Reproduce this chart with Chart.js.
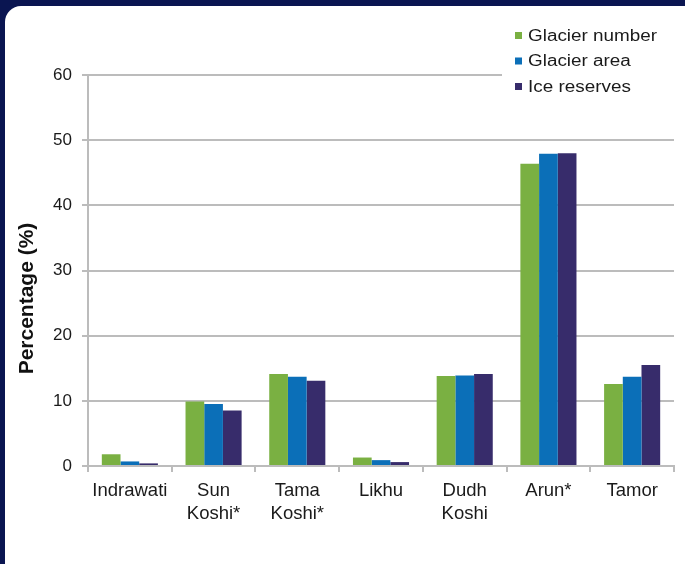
<!DOCTYPE html>
<html>
<head>
<meta charset="utf-8">
<script src="https://cdn.jsdelivr.net/npm/chart.js@4/dist/chart.umd.min.js"></script>
<style>
  html, body { margin: 0; padding: 0; }
  body { width: 685px; height: 564px; background: #0a1551; position: relative; overflow: hidden; }
  #panel { position: absolute; left: 5px; top: 6px; width: 700px; height: 600px; background: #ffffff; border-radius: 16px; }
  #wrap { position: absolute; left: 0; top: 0; width: 685px; height: 564px; }
</style>
</head>
<body>
<div id="panel"></div>
<div id="wrap"><canvas id="c" width="685" height="564"></canvas></div>
<script>
const categories = ["Indrawati", ["Sun", "Koshi*"], ["Tama", "Koshi*"], "Likhu", ["Dudh", "Koshi"], "Arun*", "Tamor"];
const seriesNames = ["Glacier number", "Glacier area", "Ice reserves"];
const glacierNumber = [1.8, 9.9, 14.1, 1.3, 13.8, 46.4, 12.6];
const glacierArea   = [0.7, 9.5, 13.7, 0.9, 13.9, 47.9, 13.7];
const iceReserves   = [0.4, 8.5, 13.1, 0.6, 14.1, 48.0, 15.5];
const yTicks = [0, 10, 20, 30, 40, 50, 60];
const yTitle = "Percentage (%)";
const colors = ["#7ab042", "#0b6fb8", "#372c6b"];

const FONT = "'Liberation Sans', Arial, Helvetica, sans-serif";
const GRID = "#bcbcbc";

const overlayPlugin = {
  id: 'overlay',
  afterDraw(chart) {
    const ctx = chart.ctx;
    // legend
    ctx.save();
    ctx.fillStyle = '#ffffff';
    ctx.fillRect(502, 66, 183, 20);
    ctx.font = "16px " + FONT;
    ctx.textBaseline = 'middle';
    ctx.textAlign = 'left';
    const rows = [35.5, 61, 86.5];
    chart.data.datasets.forEach((ds, i) => {
      ctx.fillStyle = ds.backgroundColor;
      ctx.fillRect(515, rows[i] - 3.5, 7, 7);
      ctx.save();
      ctx.translate(528, rows[i] + 1);
      ctx.scale(1.18, 1);
      ctx.fillStyle = '#1a1a1a';
      ctx.fillText(ds.label, 0, 0);
      ctx.restore();
    });
    ctx.restore();
    // y axis title
    ctx.save();
    ctx.translate(32.5, 298.5);
    ctx.rotate(-Math.PI / 2);
    ctx.font = "bold 21px " + FONT;
    ctx.textAlign = 'center';
    ctx.textBaseline = 'alphabetic';
    ctx.fillStyle = '#111111';
    ctx.fillText(yTitle, 0, 0);
    ctx.restore();
  }
};

new Chart(document.getElementById('c'), {
  type: 'bar',
  data: {
    labels: categories,
    datasets: [
      { label: seriesNames[0], data: glacierNumber, backgroundColor: colors[0] },
      { label: seriesNames[1], data: glacierArea, backgroundColor: colors[1] },
      { label: seriesNames[2], data: iceReserves, backgroundColor: colors[2] }
    ]
  },
  options: {
    responsive: false,
    animation: false,
    devicePixelRatio: 1,
    layout: { padding: { left: 0, right: 11, top: 75, bottom: 0 } },
    datasets: { bar: { categoryPercentage: 0.67, barPercentage: 1.0 } },
    plugins: { legend: { display: false }, tooltip: { enabled: false } },
    scales: {
      x: {
        grid: { display: true, drawOnChartArea: false, drawTicks: true, tickLength: 6, color: GRID, lineWidth: 2, offset: true },
        border: { display: true, color: GRID, width: 2 },
        ticks: { color: '#1a1a1a', font: { family: FONT, size: 18.5, lineHeight: 1.27 }, padding: 7, maxRotation: 0, autoSkip: false },
        afterFit(scale) { scale.height = 98; }
      },
      y: {
        min: 0, max: 60,
        afterBuildTicks(scale) { scale.ticks = yTicks.map(v => ({ value: v })); },
        grid: { color: GRID, lineWidth: 2, tickLength: 6, drawTicks: true },
        border: { display: true, color: GRID, width: 2 },
        ticks: { color: '#1a1a1a', font: { family: FONT, size: 17 }, padding: 10 },
        title: { display: false },
        afterFit(scale) { scale.width = 88; }
      }
    }
  },
  plugins: [overlayPlugin]
});
</script>
</body>
</html>
